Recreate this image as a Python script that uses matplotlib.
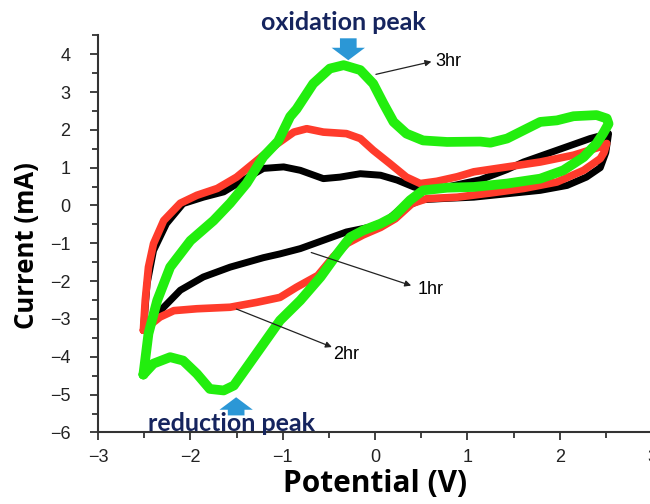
import matplotlib
matplotlib.use("Agg")
import matplotlib.pyplot as plt
from matplotlib.ticker import MultipleLocator

# ---- data (potential V, current mA), one closed loop per sample ----
x_1hr = [-2.51, -2.47, -2.40, -2.26, -2.08, -1.86, -1.64, -1.43, -1.21, -0.99, -0.81, -0.56, -0.38,
         -0.16, 0.06, 0.24, 0.42, 0.56, 0.78, 1.14, 1.43, 1.61, 1.97, 2.33, 2.53,
         2.50, 2.44, 2.29, 2.08, 1.79, 1.43, 1.07, 0.71, 0.50, 0.38, 0.27, 0.13, -0.05, -0.31,
         -0.56, -0.81, -1.03, -1.21, -1.57, -1.86, -2.11, -2.29, -2.51]
y_1hr = [-3.30, -2.07, -1.19, -0.48, 0.05, 0.22, 0.36, 0.67, 0.98, 1.02, 0.93, 0.71, 0.75,
         0.84, 0.80, 0.67, 0.49, 0.40, 0.49, 0.68, 0.95, 1.15, 1.46, 1.77, 1.90,
         1.40, 1.00, 0.75, 0.53, 0.40, 0.31, 0.22, 0.18, 0.15, 0.02, -0.10, -0.39, -0.57, -0.70,
         -0.92, -1.14, -1.28, -1.38, -1.63, -1.89, -2.24, -2.69, -3.30]

x_2hr = [-2.51, -2.49, -2.455, -2.40, -2.29, -2.11, -1.93, -1.71, -1.50, -1.28, -1.06, -0.88, -0.74,
         -0.56, -0.31, -0.16, -0.02, 0.16, 0.34, 0.49, 0.67, 0.89, 1.07, 1.43, 1.79, 2.15, 2.44, 2.51,
         2.48, 2.44, 2.26, 1.97, 1.61, 1.25, 0.89, 0.56, 0.40, 0.22, 0.06, -0.13, -0.30, -0.45,
         -0.62, -0.85, -1.03, -1.28, -1.57, -1.93, -2.18, -2.33, -2.51]
y_2hr = [-3.30, -2.51, -1.63, -1.01, -0.40, 0.06, 0.27, 0.45, 0.75, 1.19, 1.63, 1.94, 2.03,
         1.94, 1.90, 1.77, 1.46, 1.11, 0.75, 0.58, 0.64, 0.76, 0.89, 1.02, 1.15, 1.33, 1.55, 1.64,
         1.40, 1.24, 0.93, 0.62, 0.45, 0.33, 0.22, 0.18, 0.05, -0.35, -0.58, -0.78, -1.00, -1.35,
         -1.85, -2.16, -2.43, -2.56, -2.69, -2.73, -2.78, -2.95, -3.30]

x_3hr = [-2.51, -2.455, -2.36, -2.22, -2.00, -1.75, -1.57, -1.39, -1.21, -1.05, -0.92, -0.85, -0.67,
         -0.49, -0.34, -0.16, -0.02, 0.09, 0.20, 0.34, 0.52, 0.78, 1.14, 1.25, 1.43, 1.61, 1.79, 1.97,
         2.15, 2.40, 2.51, 2.53,
         2.47, 2.40, 2.26, 2.04, 1.79, 1.43, 1.07, 0.78, 0.52, 0.38, 0.20, 0.06, -0.13, -0.27, -0.41,
         -0.59, -0.81, -1.03, -1.21, -1.39, -1.53, -1.64, -1.79, -1.93, -2.08, -2.22, -2.40, -2.51]
y_3hr = [-4.47, -3.39, -2.51, -1.63, -0.93, -0.40, 0.06, 0.59, 1.29, 1.70, 2.35, 2.55, 3.22,
         3.62, 3.71, 3.58, 3.22, 2.70, 2.21, 1.90, 1.72, 1.68, 1.69, 1.66, 1.77, 1.99, 2.21, 2.25,
         2.36, 2.39, 2.30, 2.16,
         1.90, 1.64, 1.28, 0.93, 0.71, 0.58, 0.49, 0.47, 0.40, 0.14, -0.30, -0.48, -0.66, -0.84, -1.28,
         -1.89, -2.51, -3.04, -3.66, -4.28, -4.76, -4.89, -4.85, -4.45, -4.10, -4.01, -4.18, -4.47]

series = [("1hr", x_1hr, y_1hr, "black", 5.0),
          ("2hr", x_2hr, y_2hr, "#ff3b2b", 5.5),
          ("3hr", x_3hr, y_3hr, "#22ee0e", 7.0)]

fig = plt.figure(figsize=(6.5, 5.04), dpi=100)
ax = fig.add_axes([0.151, 0.142, 0.852, 0.788])

for name, xs, ys, color, lw in series:
    ax.plot(xs, ys, color=color, lw=lw, solid_joinstyle="round", solid_capstyle="round", zorder=3)

ax.set_xlim(-3, 3)
ax.set_ylim(-6, 4.5)
ax.xaxis.set_major_locator(MultipleLocator(1))
ax.xaxis.set_minor_locator(MultipleLocator(0.5))
ax.yaxis.set_minor_locator(MultipleLocator(0.5))
ax.set_yticks([-6, -5, -4, -3, -2, -1, 0, 1, 2, 3, 4])

for side in ["top", "right"]:
    ax.spines[side].set_visible(False)
for side in ["left", "bottom"]:
    ax.spines[side].set_color("#333333")
    ax.spines[side].set_linewidth(1.5)

ax.tick_params(which="major", length=6, width=1.3, color="#333333", labelsize=13,
               labelcolor="#222222")
ax.tick_params(which="minor", length=4, width=1.3, color="#333333")
ax.tick_params(axis="y", which="major", pad=14)
ax.tick_params(axis="x", which="major", pad=6)
for lab in ax.get_xticklabels() + ax.get_yticklabels():
    lab.set_family("Liberation Sans")

ax.set_ylabel("Current (mA)", fontsize=18.5, fontweight="bold", family="Open Sans")
ax.yaxis.set_label_coords(-0.105, 0.47)
ax.set_xlabel("Potential (V)", fontsize=21.5, fontweight="bold", family="Open Sans", labelpad=2)

# curve labels with thin arrows
arrow_kw = dict(arrowstyle="-|>", color="#222222", lw=0.9, mutation_scale=9)
label_kw = dict(fontsize=13, family="Liberation Sans", va="center", ha="left", zorder=5)
ax.text(0.46, -2.21, "1hr", **label_kw)
ax.annotate("", xy=(0.42, -2.14), xytext=(-0.72, -1.22), arrowprops=arrow_kw, zorder=5)
ax.text(-0.45, -3.93, "2hr", **label_kw)
ax.annotate("", xy=(-0.44, -3.77), xytext=(-1.53, -2.71), arrowprops=arrow_kw, zorder=5)
ax.text(0.65, 3.82, "3hr", **label_kw)
ax.annotate("", xy=(0.64, 3.82), xytext=(-0.02, 3.45), arrowprops=arrow_kw, zorder=5)

# peak markers
peak_arrow = dict(arrowstyle="simple,head_width=1.2,head_length=0.45,tail_width=0.6",
                  color="#2b97d6", lw=0, mutation_scale=20, shrinkA=0, shrinkB=0)
ax.annotate("", xy=(-0.29, 3.84), xytext=(-0.29, 4.42), arrowprops=peak_arrow,
            annotation_clip=False, zorder=6)
ax.annotate("", xy=(-1.505, -5.07), xytext=(-1.505, -5.55), arrowprops=peak_arrow,
            annotation_clip=False, zorder=6)

fig.text(0.528, 0.956, "oxidation peak", fontsize=18, fontweight="bold", family="Lato",
         color="#15245e", ha="center", va="center")
ax.text(-1.56, -5.95, "reduction peak", fontsize=18, fontweight="bold", family="Lato",
        color="#15245e", ha="center", va="baseline", clip_on=False, zorder=6)

fig.savefig("out.png", dpi=100)
